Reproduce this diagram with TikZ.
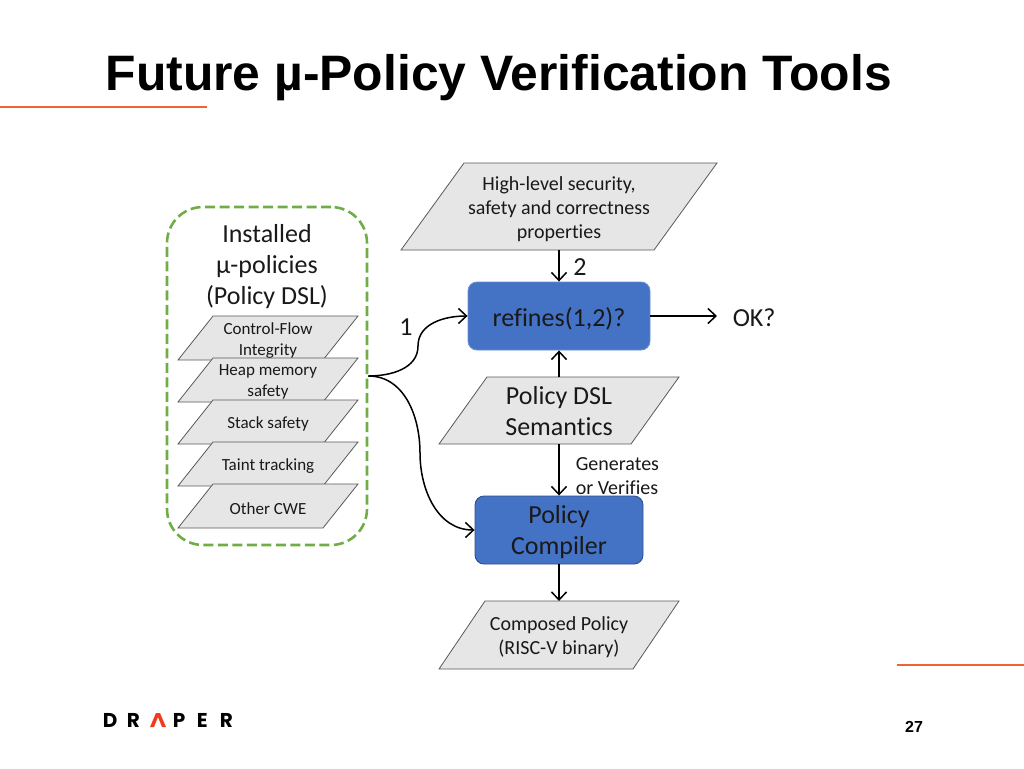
\documentclass[tikz,border=0pt]{standalone}
\usepackage{fontspec}
\setmainfont{Carlito}[Ligatures=CommonOff]
\newfontfamily\titlefont{Liberation Sans}
\newfontfamily\logofont{Poppins}
\usetikzlibrary{positioning,arrows.meta}
\definecolor{boxblue}{HTML}{4472C4}
\definecolor{boxgray}{HTML}{E7E6E6}
\definecolor{rulered}{HTML}{F0652F}
\definecolor{caretred}{HTML}{F23A1E}
\definecolor{dashgreen}{HTML}{70AD47}
\tikzset{
    slantline/.style={draw=black!65,fill=boxgray,line width=.8pt},
    boxtext/.style={align=center,inner sep=0pt,text=black!90,yshift=-2.3pt},
    smalltext/.style={font=\fontsize{17}{21}\selectfont},
    midtext/.style={font=\fontsize{20}{24}\selectfont},
    bigtext/.style={font=\fontsize{26}{31}\selectfont},
    bluebox/.style={draw=#1,fill=boxblue,rounded corners=9pt,line width=.9pt,inner sep=0pt},
    plainlabel/.style={align=center,inner sep=0pt,text=black!90,bigtext},
    logoletter/.style={inner sep=0pt,anchor=base west,font=\logofont\bfseries\fontsize{20}{20}\selectfont}
}
% [text style]{name}{centre}{width}{height}{skew}{text}
\newcommand{\slantnode}[6][]{%
    \begin{scope}[shift={(#3)}]
        \draw[-,slantline] (-#4/2,#5/2) -- (-#4/2+#6,-#5/2) -- (#4/2,-#5/2) -- (#4/2-#6,#5/2) -- cycle;
    \end{scope}
    \node[inner sep=0pt,outer sep=0pt,minimum width=#4pt-#6pt,minimum height=#5pt,#1] (#2) at (#3) {};
}

\begin{document}
\begin{tikzpicture}[->,
    x=1pt,y=-1pt,
    >={Straight Barb[length=8pt,width=15pt]},
    line width=1.5pt]
    \useasboundingbox (0,0) rectangle (1024,768);
    % title and rules
    \node[anchor=base west,inner sep=0pt,font=\titlefont\bfseries\fontsize{49.8}{50}\selectfont] (title) at (105,90) {Future µ-Policy Verification Tools};
    \draw[-,draw=rulered,line width=1.2pt] (0,107) -- (207,107);
    \draw[-,draw=rulered,line width=1.2pt] (897,665) -- (1024,665);
    % installed policies
    \node[draw=dashgreen,dashed,dash pattern=on 10pt off 4.5pt,line width=2.6pt,rounded corners=36pt,minimum width=200pt,minimum height=338pt,inner sep=0pt] (installed) at (267,376) {};
    \node[plainlabel] (installedtext) at (267,267) {Installed\\µ-policies\\(Policy DSL)};
    \slantnode[label={[boxtext,smalltext]center:{Control-Flow\\Integrity}}]{cfi}{268,338}{180}{44}{35}
    \slantnode[label={[boxtext,smalltext]center:{Heap memory\\safety}}]{heap}{268,380}{180}{44}{35}
    \slantnode[label={[boxtext,smalltext]center:{Stack safety}}]{stack}{268,422}{180}{44}{35}
    \slantnode[label={[boxtext,smalltext]center:{Taint tracking}}]{taint}{268,464}{180}{44}{35}
    \slantnode[label={[boxtext,smalltext]center:{Other CWE}}]{cwe}{268,506}{180}{44}{35}
    % main column
    \slantnode[label={[boxtext,midtext]center:{High-level security,\\safety and correctness\\properties}}]{high}{559,206.5}{316}{87}{63}
    \node[bluebox=boxblue!80!white,minimum width=182pt,minimum height=68pt,label={[boxtext,bigtext]center:{refines(1,2)?}}] (refines) at (559,316) {};
    \slantnode[label={[boxtext,bigtext,yshift=1.3pt]center:{Policy DSL\\Semantics}}]{dsl}{559,410.5}{240}{67}{48}
    \node[bluebox=boxblue!70!black,minimum width=168pt,minimum height=68pt,label={[boxtext,bigtext]center:{Policy\\Compiler}}] (compiler) at (559,530) {};
    \slantnode[label={[boxtext,midtext]center:{Composed Policy\\(RISC-V binary)}}]{composed}{559,635}{240}{68}{46}
    \node[plainlabel,anchor=west] (ok) at (732,318) {OK?};
    \node[plainlabel] (one) at (406,327) {1};
    \node[plainlabel] (two) at (580,267) {2};
    \node[align=left,inner sep=0pt,text=black!90,midtext,anchor=north west] (generates) at (575,457) {Generates\\or Verifies};
    % connectors
    \coordinate (upperbend) at (418,346);
    \coordinate (lowerbend) at (420,453);
    \draw (high) -- (refines);
    \draw (dsl) -- (refines);
    \draw (dsl) -- (compiler);
    \draw (compiler) -- (composed);
    \draw[shorten >=15pt] (refines.east) -- (refines.east -| ok.west);
    \draw (installed.east) to[out=0,in=-90] (upperbend) to[out=90,in=180] (refines.west);
    \draw (installed.east) to[out=0,in=90] (lowerbend) to[out=-90,in=180] (compiler.west);
    % logo
    \foreach \letter/\xpos in {D/102,R/126,P/172,E/196,R/219}
        \node[logoletter] (logo\xpos) at (\xpos,727) {\letter};
    \fill[caretred] (150,727) -- (156,713) -- (160,713) -- (166,727) -- (162,727) -- (158,717) -- (154,727) -- cycle;
    \node[inner sep=0pt,font=\titlefont\bfseries\fontsize{16}{16}\selectfont] (page) at (914,727) {27};
\end{tikzpicture}
\end{document}
